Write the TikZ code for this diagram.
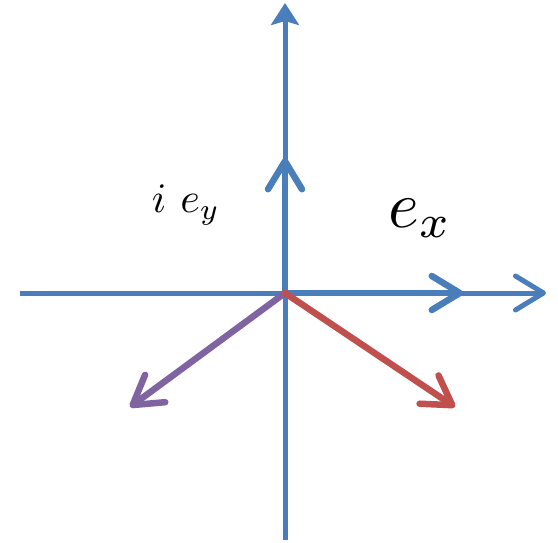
\RequirePackage{fix-cm}
\documentclass[tikz,border=0pt]{standalone}
\usetikzlibrary{arrows.meta}
\definecolor{axisblue}{HTML}{4A7EBB}
\definecolor{vred}{HTML}{C0504D}
\definecolor{vpurple}{HTML}{8064A2}
\begin{document}
\begin{tikzpicture}[x=1pt,y=-1pt,
  axisline/.style={draw=axisblue,line width=5pt},
  vecline/.style={line width=6.5pt,line cap=round},
  barb/.style={-{Straight Barb[length=28pt,width=34pt,line cap=round,round]}},
  lbl/.style={inner sep=0pt}]
\useasboundingbox (0,0) rectangle (558,543);
\coordinate (O) at (285,293);
\coordinate (L) at (20,293);
\coordinate (R) at (546,293);
\coordinate (B) at (285,540);
\coordinate (T) at (285,3);
\coordinate (Ex) at (463,293);
\coordinate (Ey) at (285,158);
\coordinate (P) at (130,407);
\coordinate (Q) at (455,407);
\draw[axisline,-{Stealth[length=22pt,width=28pt,inset=4pt]}] (B) -- (T);
\draw[axisline,barb] (L) -- (R);
\draw[vecline,draw=axisblue,barb] (O) -- (Ex);
\draw[vecline,draw=axisblue,barb] (O) -- (Ey);
\draw[vecline,draw=vpurple,barb] (O) -- (P);
\draw[vecline,draw=vred,barb] (O) -- (Q);
\node[lbl] (ly) at (186,205) {\scalebox{4.2}{$i\ e_y$}};
\node[lbl] (lx) at (420,218) {\scalebox{6.6}{$e_x$}};
\end{tikzpicture}
\end{document}
